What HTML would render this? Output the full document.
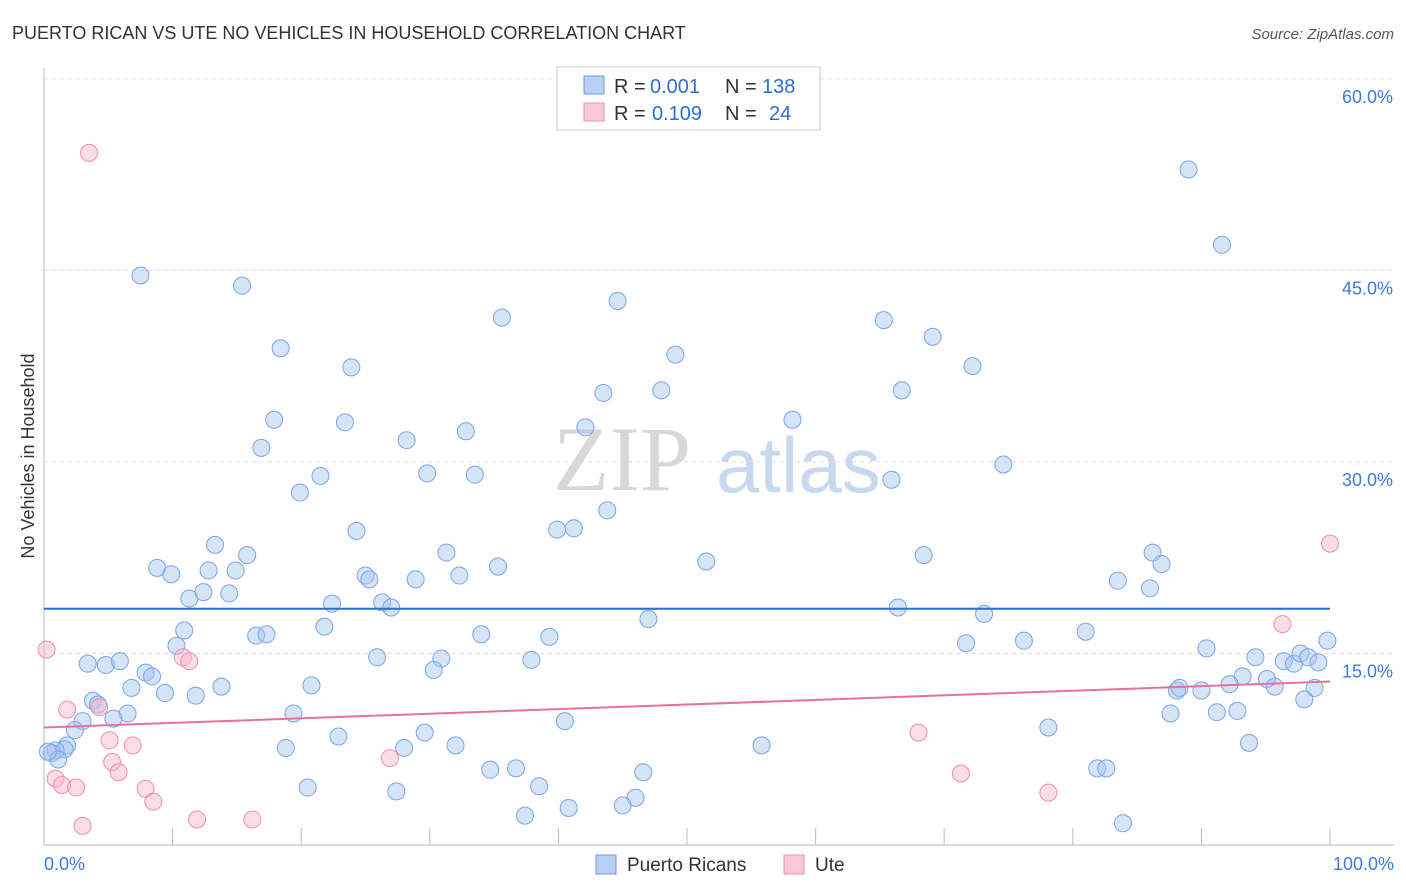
<!DOCTYPE html>
<html><head><meta charset="utf-8">
<style>
body{margin:0;background:#fff;font-family:"Liberation Sans",sans-serif;}
svg{display:block}
</style></head>
<body>
<svg id="chart" width="1406" height="892">
<text x="12" y="39" font-size="18" fill="#333">PUERTO RICAN VS UTE NO VEHICLES IN HOUSEHOLD CORRELATION CHART</text>
<text x="1394" y="39" font-size="15" fill="#555" font-style="italic" text-anchor="end">Source: ZipAtlas.com</text>
<text transform="translate(34,456) rotate(-90)" font-size="18" fill="#333" text-anchor="middle">No Vehicles in Household</text>
<g>
<text x="553" y="490" font-size="92" fill="#d8d8d8" font-family="Liberation Serif,serif">ZIP</text>
<text x="716" y="492" font-size="78" fill="#c8d8ee">atlas</text>
</g>
<g id="grid"></g>
<g id="marks"></g>
<g>
<rect x="557" y="67" width="263" height="63" fill="#fff" stroke="#ccc"/>
<rect x="584" y="76" width="20" height="18" fill="#b8d0f4" stroke="#6d9be0"/>
<rect x="584" y="103" width="20" height="18" fill="#f9c8d8" stroke="#ee8fb0"/>
<text x="614" y="93" font-size="20" fill="#333">R =</text>
<text x="650" y="93" font-size="20" fill="#2a6fcf">0.001</text>
<text x="725" y="93" font-size="20" fill="#333">N =</text>
<text x="762" y="93" font-size="20" fill="#2a6fcf">138</text>
<text x="614" y="120" font-size="20" fill="#333">R =</text>
<text x="652" y="120" font-size="20" fill="#2a6fcf">0.109</text>
<text x="725" y="120" font-size="20" fill="#333">N =</text>
<text x="769" y="120" font-size="20" fill="#2a6fcf">24</text>
</g>
<g>
<rect x="596" y="855" width="20" height="19" fill="#b8d0f4" stroke="#6d9be0"/>
<text x="627" y="871" font-size="19" fill="#333">Puerto Ricans</text>
<rect x="784" y="855" width="20" height="19" fill="#f9c8d8" stroke="#ee8fb0"/>
<text x="815" y="871" font-size="19" fill="#333">Ute</text>
</g>
</svg>
<script>
const blueX=[7.5,15.4,18.4,23.9,17.9,23.4,16.9,28.2,32.8,35.6,44.6,49.1,43.5,48.0,42.1,58.2,65.3,69.1,66.7,72.2,89.0,91.6,74.6,65.9,19.9,21.5,29.8,33.5,43.8,39.9,41.2,24.3,13.3,15.8,8.8,9.9,12.8,14.9,11.3,12.4,14.4,25.0,25.3,28.9,31.3,32.3,35.3,51.5,68.4,86.2,86.9,83.5,86.0,22.4,26.3,27.0,66.4,73.1,47.0,10.9,21.8,16.5,17.3,34.0,39.3,71.7,76.2,81.0,90.4,99.8,10.3,3.4,4.8,5.9,7.9,8.4,25.9,30.9,30.3,37.9,94.2,96.4,97.2,97.7,98.3,99.1,93.2,95.1,6.8,9.4,11.8,13.8,20.8,88.1,88.3,90.0,92.2,95.7,98.8,3.8,4.2,6.5,5.4,3.0,2.4,19.4,40.5,87.6,91.2,92.8,98.0,78.1,1.8,1.6,0.9,0.6,1.1,0.3,22.9,29.6,32.0,28.0,18.8,55.8,93.7,81.9,82.6,34.7,36.7,46.6,20.5,27.4,38.5,46.0,45.0,40.8,37.4,83.9];
const blueY=[44.6,43.8,38.9,37.4,33.3,33.1,31.1,31.7,32.4,41.3,42.6,38.4,35.4,35.6,32.7,33.3,41.1,39.8,35.6,37.5,52.9,47.0,29.8,28.6,27.6,28.9,29.1,29.0,26.2,24.7,24.8,24.6,23.5,22.7,21.7,21.2,21.5,21.5,19.3,19.8,19.7,21.1,20.8,20.8,22.9,21.1,21.8,22.2,22.7,22.9,22.0,20.7,20.1,18.9,19.0,18.6,18.6,18.1,17.7,16.8,17.1,16.4,16.5,16.5,16.3,15.8,16.0,16.7,15.4,16.0,15.6,14.2,14.1,14.4,13.5,13.2,14.7,14.6,13.7,14.5,14.7,14.4,14.2,15.0,14.7,14.3,13.2,13.0,12.3,11.9,11.7,12.4,12.5,12.1,12.3,12.1,12.6,12.4,12.3,11.3,11.0,10.3,9.9,9.7,9.0,10.3,9.7,10.3,10.4,10.5,11.4,9.2,7.8,7.5,7.4,7.2,6.7,7.3,8.5,8.8,7.8,7.6,7.6,7.8,8.0,6.0,6.0,5.9,6.0,5.7,4.5,4.2,4.6,3.7,3.1,2.9,2.3,1.7];
const pinkX=[3.5,0.2,100,96.3,10.8,11.3,1.8,4.3,5.1,6.9,5.3,5.8,0.9,1.4,2.5,7.9,8.5,26.9,68.0,71.3,78.1,3.0,11.9,16.2];
const pinkY=[54.2,15.3,23.6,17.3,14.7,14.4,10.6,10.8,8.2,7.8,6.5,5.7,5.2,4.7,4.5,4.4,3.4,6.8,8.8,5.6,4.1,1.5,2.0,2.0];
const blueTrend=[18.5,18.5];
const pinkTrend=[9.2,12.8];
const yTicks=[15,30,45,60];
const xTickLabels=["0.0%","100.0%"];
const NS="http://www.w3.org/2000/svg";
const X0=44,X1=1330,Y0=845,PER=12.77;
const sx=v=>X0+(X1-X0)*v/100;
const sy=v=>Y0-v*PER;
const grid=document.getElementById('grid'),marks=document.getElementById('marks');
function mk(tag,attrs,parent){const e=document.createElementNS(NS,tag);for(const k in attrs)e.setAttribute(k,attrs[k]);parent.appendChild(e);return e;}
yTicks.forEach(t=>{
 const l=mk('line',{x1:X0,x2:1394,y1:sy(t),y2:sy(t),stroke:'#ddd','stroke-dasharray':'4,4'},grid);
 
 
 const tx=mk('text',{x:1393,y:sy(t)+24,'font-size':18,fill:'#3d7bd8','text-anchor':'end'},grid);
 tx.textContent=t.toFixed(1)+'%';
 
 
});
const ax=mk('line',{x1:X0,x2:X0,y1:68,y2:Y0,stroke:'#bbb'},grid);


const bx=mk('line',{x1:X0,x2:1394,y1:Y0,y2:Y0,stroke:'#bbb'},grid);


for(let i=1;i<=10;i++){const t=mk('line',{x1:sx(i*10),x2:sx(i*10),y1:828,y2:Y0,stroke:'#bbb'},grid);
 
 }
[[0,'start',44],[100,'end',1394]].forEach((d,i)=>{const t=mk('text',{x:d[2],y:870,'font-size':18,fill:'#3d7bd8','text-anchor':d[1]},grid);t.textContent=xTickLabels[i];
 
 });
blueX.forEach((v,i)=>{const c=mk('circle',{cx:sx(v),cy:sy(blueY[i]),r:8.5,fill:'rgba(164,196,240,0.45)',stroke:'#7ba5e4','stroke-width':1},marks);
 
 });
pinkX.forEach((v,i)=>{const c=mk('circle',{cx:sx(v),cy:sy(pinkY[i]),r:8.5,fill:'rgba(248,180,200,0.45)',stroke:'#ee8fb0','stroke-width':1},marks);
 
 });
const bl=mk('line',{x1:sx(0),x2:sx(100),y1:sy(blueTrend[0]),y2:sy(blueTrend[1]),stroke:'#2a6fcf','stroke-width':2},marks);


const pl=mk('line',{x1:sx(0),x2:sx(100),y1:sy(pinkTrend[0]),y2:sy(pinkTrend[1]),stroke:'#e8709a','stroke-width':2},marks);


</script>
</body></html>
